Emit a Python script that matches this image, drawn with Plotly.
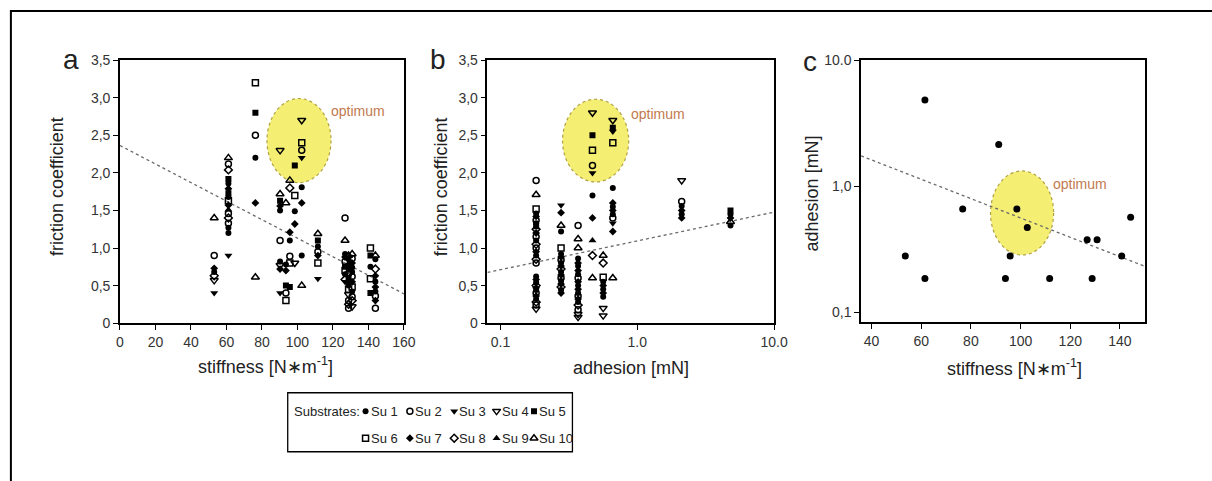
import numpy as np
import plotly.graph_objects as go

W, H = 1212, 481

SUBSTRATES = ["Su 1", "Su 2", "Su 3", "Su 4", "Su 5", "Su 6", "Su 7", "Su 8", "Su 9", "Su 10"]
SYMBOLS = ["circle", "circle-open", "triangle-down", "triangle-down-open", "square",
           "square-open", "diamond", "diamond-open", "triangle-up", "triangle-up-open"]

# ---- panel a : stiffness vs friction coefficient ----
a_x = [53.1]*7 + [61.1]*17 + [76.3]*6 + [90.2]*10 + [93.5]*6 + [95.7]*7 + [98.5]*5 + [102.4]*8 + \
      [111.5]*7 + [126.8]*10 + [128.8]*13 + [130.8]*12 + [141.1]*5 + [143.9]*10
a_y = [1.40, 0.90, 0.73, 0.68, 0.63, 0.57, 0.40,
       2.20, 2.12, 2.04, 1.92, 1.86, 1.79, 1.73, 1.68, 1.63, 1.57, 1.51, 1.46, 1.40, 1.33, 1.27, 1.20, 0.90,
       3.20, 2.80, 2.50, 2.20, 1.60, 0.61,
       2.30, 1.72, 1.63, 1.56, 1.50, 1.10, 0.82, 0.77, 0.72, 0.40,
       1.60, 0.78, 0.70, 0.50, 0.40, 0.30,
       1.90, 1.80, 1.21, 1.10, 0.89, 0.80, 0.48,
       2.10, 1.70, 1.49, 1.32, 0.80,
       2.70, 2.40, 2.30, 2.20, 1.81, 1.60, 0.90, 0.50,
       1.19, 1.10, 1.02, 0.95, 0.90, 0.80, 0.59,
       1.40, 1.10, 0.92, 0.88, 0.82, 0.75, 0.70, 0.65, 0.58, 0.55,
       0.90, 0.85, 0.78, 0.72, 0.66, 0.60, 0.55, 0.50, 0.45, 0.38, 0.30, 0.25, 0.20,
       0.92, 0.86, 0.80, 0.74, 0.68, 0.62, 0.55, 0.48, 0.42, 0.35, 0.30, 0.22,
       1.00, 0.90, 0.59, 0.40, 0.75,
       0.90, 0.85, 0.72, 0.63, 0.55, 0.48, 0.42, 0.36, 0.30, 0.20]
a_su = [10, 2, 7, 1, 8, 4, 3,
        10, 2, 8, 5, 1, 7, 5, 1, 6, 7, 9, 2, 8, 2, 1, 1, 3,
        6, 5, 2, 1, 7, 10,
        4, 10, 5, 7, 1, 2, 1, 4, 7, 3,
        10, 1, 7, 5, 2, 6,
        10, 8, 7, 1, 2, 6, 5,
        5, 6, 1, 7, 4,
        4, 6, 2, 3, 1, 7, 1, 10,
        10, 5, 1, 2, 7, 6, 3,
        2, 10, 1, 7, 2, 5, 6, 1, 8, 3,
        10, 1, 7, 1, 2, 5, 7, 1, 6, 4, 2, 8, 2,
        10, 2, 7, 1, 1, 2, 7, 6, 1, 2, 8, 4,
        6, 5, 6, 5, 1,
        10, 1, 8, 7, 1, 7, 1, 2, 7, 2]

# ---- panel b : adhesion vs friction coefficient ----
b_x = [0.182]*30 + [0.277]*19 + [0.369]*20 + [0.470]*10 + [0.563]*10 + [0.662]*13 + [2.11]*6 + [4.8]*5
b_y = [1.90, 1.71, 1.52, 1.46, 1.42, 1.37, 1.33, 1.29, 1.25, 1.20, 1.15, 1.10, 1.05, 1.00, 0.95,
       0.90, 0.85, 0.80, 0.62, 0.58, 0.54, 0.50, 0.47, 0.44, 0.40, 0.36, 0.32, 0.28, 0.24, 0.19,
       1.57, 1.47, 1.30, 1.22, 1.00, 0.92, 0.88, 0.84, 0.80, 0.76, 0.72, 0.68, 0.64, 0.60, 0.56,
       0.52, 0.48, 0.44, 0.40,
       1.30, 1.12, 1.00, 0.86, 0.80, 0.76, 0.70, 0.65, 0.60, 0.55, 0.50, 0.45, 0.40, 0.36, 0.32,
       0.28, 0.24, 0.18, 0.12, 0.08,
       2.80, 2.50, 2.30, 2.10, 2.00, 1.70, 1.40, 1.10, 0.90, 0.60,
       0.90, 0.80, 0.61, 0.55, 0.50, 0.45, 0.40, 0.35, 0.20, 0.10,
       2.70, 2.60, 2.55, 2.40, 1.80, 1.60, 1.55, 1.50, 1.45, 1.40, 1.33, 1.22, 0.60,
       1.90, 1.62, 1.56, 1.50, 1.45, 1.40,
       1.50, 1.45, 1.40, 1.35, 1.30]
b_su = [2, 10, 6, 1, 7, 2, 1, 5, 8, 7, 2, 1, 8, 2, 7,
        1, 8, 2, 1, 7, 1, 8, 7, 1, 2, 7, 1, 8, 2, 4,
        3, 7, 10, 1, 6, 1, 7, 2, 1, 7, 8, 1, 7, 2, 1,
        7, 8, 1, 7,
        2, 10, 10, 1, 7, 1, 7, 1, 2, 7, 1, 7, 1, 2, 7,
        1, 8, 2, 4, 4,
        4, 5, 6, 2, 3, 1, 7, 9, 8, 10,
        10, 8, 6, 1, 7, 1, 7, 1, 4, 4,
        4, 5, 3, 6, 1, 7, 1, 7, 1, 2, 3, 7, 10,
        4, 2, 1, 7, 1, 7,
        5, 1, 7, 10, 1]

# ---- panel c : stiffness vs adhesion ----
c_x = [61.5, 91.2, 76.7, 98.5, 102.7, 53.6, 95.8, 61.5, 93.9, 111.7, 128.8, 126.8, 130.8, 140.7, 144.3]
c_y = [4.84, 2.14, 0.66, 0.66, 0.47, 0.279, 0.279, 0.185, 0.185, 0.185, 0.185, 0.376, 0.376, 0.279, 0.567]

# regression lines (end points)
trend_a_x, trend_a_y = [0, 160], [2.365, 0.39]
trend_b_x, trend_b_y = [0.0802, 10.0], [0.675, 1.478]
trend_c_x, trend_c_y = [35.8, 150.0], [1.74, 0.231]

# "optimum" regions (x0, x1, y0, y1) and label positions
opt_a = [82.8, 118.9, 1.87, 2.99]
opt_b = [0.284, 0.865, 1.88, 2.98]
opt_c = [87.9, 113.3, 0.284, 1.32]
opt_label_a = (134.0, 2.83)
opt_label_b = (1.41, 2.78)
opt_label_c = (124.1, 1.04)

fric_ticks = [0, 0.5, 1.0, 1.5, 2.0, 2.5, 3.0, 3.5]
fric_text = ["0", "0,5", "1,0", "1,5", "2,0", "2,5", "3,0", "3,5"]
log_ticks = [0.1, 1, 10]
b_xtext = ["0.1", "1.0", "10.0"]
c_ytext = ["0,1", "1,0", "10.0"]

FONT = "Liberation Sans, Arial, sans-serif"
TICKCOL = "#333333"

def px(p):
    return p / W

def py(p):
    return 1 - p / H

fig = go.Figure()

a_x_arr, a_y_arr, a_su_arr = np.array(a_x), np.array(a_y), np.array(a_su)
b_x_arr, b_y_arr, b_su_arr = np.array(b_x), np.array(b_y), np.array(b_su)

def marker_for(sym, size):
    is_open = sym.endswith("open")
    return dict(symbol=sym, size=size + (1 if "triangle" in sym else 0), color="black",
                line=dict(color="black", width=1.5 if is_open else 0))

def add_panel(xs, ys, sus, xa, ya):
    for i, name in enumerate(SUBSTRATES):
        m = sus == (i + 1)
        fig.add_trace(go.Scatter(
            x=xs[m], y=ys[m], mode="markers", name=name, showlegend=False,
            xaxis=xa, yaxis=ya, marker=marker_for(SYMBOLS[i], 6)))

# trend lines
for tx, ty, xa, ya in [(trend_a_x, trend_a_y, "x", "y"),
                       (trend_b_x, trend_b_y, "x2", "y2"),
                       (trend_c_x, trend_c_y, "x3", "y3")]:
    fig.add_trace(go.Scatter(x=tx, y=ty, mode="lines", xaxis=xa, yaxis=ya, showlegend=False,
                             line=dict(color="#6a6a6a", width=1.3, dash="dot")))

add_panel(a_x_arr, a_y_arr, a_su_arr, "x", "y")
add_panel(b_x_arr, b_y_arr, b_su_arr, "x2", "y2")

fig.add_trace(go.Scatter(x=c_x, y=c_y, mode="markers", xaxis="x3", yaxis="y3", showlegend=False,
                         marker=dict(symbol="circle", size=7, color="black")))

# optimum ellipses
for (x0, x1, y0, y1), xr, yr in [(opt_a, "x", "y"), (opt_b, "x2", "y2"), (opt_c, "x3", "y3")]:
    fig.add_shape(type="circle", xref=xr, yref=yr, x0=x0, x1=x1, y0=y0, y1=y1,
                  fillcolor="#f4ee72", line=dict(color="#b0a040", width=1.2, dash="dot"),
                  layer="below")

# legend (manual, inside its own invisible axis measured in pixels from the box's lower-left)
LEG_L, LEG_R, LEG_T, LEG_B = 288, 577, 398, 459
leg_cols = [79, 124, 169, 212, 250]
leg_rows = [42, 14]
for i, name in enumerate(SUBSTRATES):
    r, c = divmod(i, 5)
    fig.add_trace(go.Scatter(
        x=[leg_cols[c]], y=[leg_rows[r]], mode="markers", xaxis="x4", yaxis="y4",
        showlegend=False, name=name, marker=marker_for(SYMBOLS[i], 6)))

axis_common = dict(showline=True, linecolor="black", linewidth=1.5, mirror=True,
                   ticks="outside", ticklen=5, tickwidth=1.3, tickcolor="black",
                   showgrid=False, zeroline=False,
                   tickfont=dict(family=FONT, size=14, color=TICKCOL))

fig.update_layout(
    width=W, height=H, margin=dict(l=0, r=0, t=0, b=0),
    paper_bgcolor="white", plot_bgcolor="white", showlegend=False,
    xaxis=dict(domain=[px(117.7), px(406)], range=[0, 160], tickvals=list(range(0, 161, 20)),
               anchor="y", **axis_common),
    yaxis=dict(domain=[py(326), py(54)], range=[0, 3.5], tickvals=fric_ticks, ticktext=fric_text,
               anchor="x", **axis_common),
    xaxis2=dict(domain=[px(490.7), px(781.7)], type="log", range=[-1.096, 1.0],
                tickvals=log_ticks, ticktext=b_xtext, anchor="y2", **axis_common),
    yaxis2=dict(domain=[py(326), py(54)], range=[0, 3.5], tickvals=fric_ticks, ticktext=fric_text,
                anchor="x2", **axis_common),
    xaxis3=dict(domain=[px(870), px(1158)], range=[35.8, 150], tickvals=list(range(40, 141, 20)),
                anchor="y3", **axis_common),
    yaxis3=dict(domain=[py(325), py(54)], type="log", range=[-1.08, 1.0],
                tickvals=log_ticks, ticktext=c_ytext, anchor="x3", **axis_common),
    xaxis4=dict(domain=[px(LEG_L), px(LEG_R)], range=[0, LEG_R - LEG_L], visible=False, anchor="y4"),
    yaxis4=dict(domain=[py(LEG_B), py(LEG_T)], range=[0, LEG_B - LEG_T], visible=False, anchor="x4"),
)

# legend box and outer frame (frame's right and bottom edges lie outside the picture)
fig.add_shape(type="rect", xref="x4 domain", yref="y4 domain", x0=0, x1=1, y0=0, y1=1,
              line=dict(color="black", width=1.3), fillcolor="rgba(0,0,0,0)")
fig.add_shape(type="rect", xref="paper", yref="paper", x0=px(7), x1=1.1, y0=-0.1, y1=py(3),
              line=dict(color="black", width=2), fillcolor="rgba(0,0,0,0)")

ann = []
def text(x, y, s, size, color="#222", angle=0, xanchor="center", yanchor="middle", ref="paper"):
    ann.append(dict(x=px(x) if ref == "paper" else x, y=py(y) if ref == "paper" else y,
                    xref=ref if ref == "paper" else "x4", yref=ref if ref == "paper" else "y4",
                    text=s, showarrow=False, textangle=angle, xanchor=xanchor, yanchor=yanchor,
                    font=dict(family=FONT, size=size, color=color)))

text(4, leg_rows[0], "Substrates:", 13, xanchor="left", ref="x4")
for i, name in enumerate(SUBSTRATES):
    r, c = divmod(i, 5)
    text(leg_cols[c] + 3, leg_rows[r], name, 13, xanchor="left", ref="x4")

text(54, 185, "friction coefficient", 18, angle=-90)
text(443, 185, "friction coefficient", 18, angle=-90)
text(820, 192, "adhesion [mN]", 18, angle=-90)
text(265, 370, "stiffness [N\u2217m<sup>-1</sup>]", 18)
text(636, 372, "adhesion [mN]", 18)
text(1026, 372, "stiffness [N\u2217m<sup>-1</sup>]", 18)
text(68, 53, "a", 28)
text(441, 53, "b", 28)
text(818, 55, "c", 28)

optc = "#c27a4e"
fig.update_layout(annotations=ann)
fig.add_annotation(x=opt_label_a[0], y=opt_label_a[1], xref="x", yref="y", text="optimum",
                   showarrow=False, font=dict(family=FONT, size=14, color=optc))
fig.add_annotation(x=np.log10(opt_label_b[0]), y=opt_label_b[1], xref="x2", yref="y2",
                   text="optimum", showarrow=False, font=dict(family=FONT, size=14, color=optc))
fig.add_annotation(x=opt_label_c[0], y=np.log10(opt_label_c[1]), xref="x3", yref="y3",
                   text="optimum", showarrow=False, font=dict(family=FONT, size=14, color=optc))

fig.write_html("out.html", config={"displayModeBar": False},
               post_script="document.body.style.margin='0px';document.body.style.overflow='hidden';")
